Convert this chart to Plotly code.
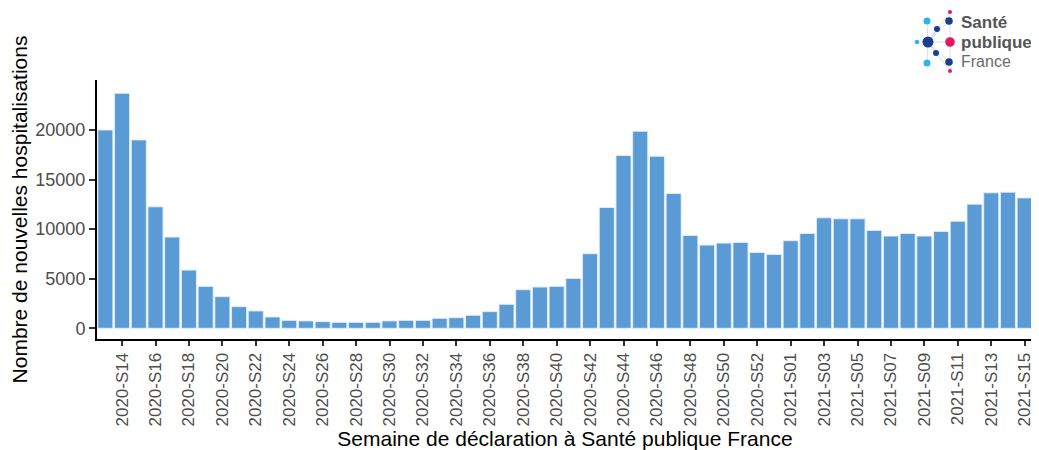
import plotly.graph_objects as go

# ---- data ----
weeks_2020 = [f"2020-S{w:02d}" for w in range(13, 54)]
weeks_2021 = [f"2021-S{w:02d}" for w in range(1, 16)]
weeks = weeks_2020 + weeks_2021

hospitalisations = [
    20000, 23700, 19000, 12250, 9200, 5870, 4230, 3190, 2180, 1750,
    1140, 800, 740, 670, 600, 600, 600, 740, 800, 800,
    1010, 1070, 1310, 1680, 2420, 3890, 4160, 4230, 5030, 7520,
    12180, 17420, 19870, 17350, 13590, 9360, 8390, 8590, 8660, 7650,
    7450,
    8830, 9560, 11140, 11040, 11040, 9870, 9300, 9560, 9300, 9770,
    10800, 12520, 13660, 13730, 13150,
]

tick_labels = weeks[1::2]
y_ticks = [0, 5000, 10000, 15000, 20000]

x_title = "Semaine de déclaration à Santé publique France"
y_title = "Nombre de nouvelles hospitalisations"

# ---- figure ----
# the page body has an 8px default margin: figure is sized to fit the window
OFF = 8
W, H = 1039 - OFF, 450 - OFF
ML, MR, MT, MB = 97 - OFF, 6, 80 - OFF, 111

fig = go.Figure()
fig.add_trace(go.Bar(
    x=weeks, y=hospitalisations,
    marker=dict(color="#5b9bd5", line=dict(color="rgba(225,238,250,0.9)", width=1)),
    hovertemplate="%{x}: %{y}<extra></extra>",
))

font_family = "Liberation Sans, Arial, sans-serif"

fig.update_layout(
    width=W, height=H,
    margin=dict(l=ML, r=MR, t=MT, b=MB, autoexpand=False),
    plot_bgcolor="white", paper_bgcolor="white",
    bargap=0.1,
    showlegend=False,
    font=dict(family=font_family),
)
fig.update_xaxes(
    type="category",
    range=[-0.5, len(weeks) - 0.5],
    tickmode="array", tickvals=tick_labels, ticktext=tick_labels,
    tickangle=-90,
    tickfont=dict(size=17, color="#4d4d4d"),
    ticks="outside", ticklen=5, tickwidth=1.5, tickcolor="#333333",
    showline=True, linecolor="black", linewidth=2,
    showgrid=False, zeroline=False,
    title=dict(text=x_title, font=dict(size=21, color="black"), standoff=4),
    automargin=False,
)
fig.update_yaxes(
    range=[-1080, 25040],
    tickmode="array", tickvals=y_ticks, ticktext=[str(v) for v in y_ticks],
    tickfont=dict(size=18, color="#4d4d4d"),
    ticks="outside", ticklen=6, tickwidth=1.5, tickcolor="#333333",
    showline=True, linecolor="black", linewidth=2,
    showgrid=False, zeroline=False,
    title=dict(text=y_title, font=dict(size=21, color="black"), standoff=6),
    automargin=False,
)

# ---- logo (Santé publique France) drawn in window-pixel space ----
PW, PH = W - ML - MR, H - MT - MB


def px(x):
    return (x - OFF - ML) / PW


def py(y):
    return (H - MB - (y - OFF)) / PH


LIGHT, NAVY, PINK = "#2bb5e8", "#1b3f8f", "#e5185d"
dots = [
    (950, 12, 2.0, PINK), (949, 21, 3.8, NAVY), (927, 21, 3.5, LIGHT),
    (937, 29, 3.0, NAVY), (917, 42, 2.3, LIGHT), (928, 42, 5.5, NAVY),
    (950, 42, 4.8, PINK), (936, 53, 3.0, NAVY), (927, 63, 3.5, LIGHT),
    (949, 62, 3.8, NAVY), (950, 71, 2.0, PINK),
]
cx, cy = 928, 42
for (x, y, r, c) in dots:
    if (x, y) != (cx, cy):
        fig.add_shape(type="line", xref="paper", yref="paper",
                      x0=px(cx), y0=py(cy), x1=px(x), y1=py(y),
                      line=dict(color="rgba(190,200,215,0.6)", width=1), layer="below")
fig.add_shape(type="line", xref="paper", yref="paper",
              x0=px(950), y0=py(12), x1=px(950), y1=py(71),
              line=dict(color="rgba(190,200,215,0.6)", width=1), layer="below")
for (x, y, r, c) in dots:
    fig.add_shape(type="circle", xref="paper", yref="paper",
                  x0=px(x - r), x1=px(x + r), y0=py(y + r), y1=py(y - r),
                  fillcolor=c, line=dict(width=0))

for txt, y, bold, col, size in [("Santé", 22, True, "#555555", 17),
                                ("publique", 42, True, "#555555", 17),
                                ("France", 62, False, "#6b6b6b", 16)]:
    fig.add_annotation(
        xref="paper", yref="paper", x=px(959), y=py(y),
        text=f"<b>{txt}</b>" if bold else txt, showarrow=False,
        xanchor="left", yanchor="middle",
        font=dict(size=size, color=col, family=font_family),
    )

fig.write_html("out.html")
